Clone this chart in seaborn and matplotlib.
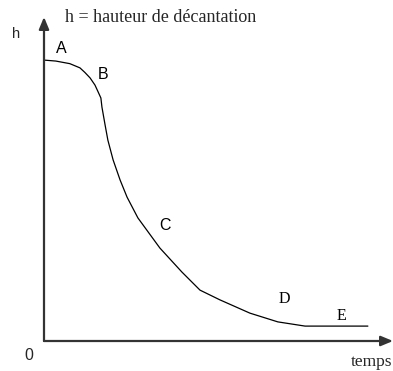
import matplotlib
matplotlib.use("Agg")
import matplotlib.pyplot as plt
import seaborn as sns
import pandas as pd

# Data (arbitrary units: time 0-100, height 0-100)
temps = [0, 3.4, 7.4, 10.3, 11.7, 13.2, 14.6, 15.5, 16.3, 16.6, 17.5, 18.3,
         19.8, 21.8, 23.8, 26.9, 33.2, 39.5, 44.7, 50.4, 59.0, 67.0, 74.8, 92.8]
hauteur = [86.7, 86.4, 85.6, 84.3, 82.9, 81.2, 79.0, 76.9, 75.0, 72.2, 66.7, 62.0,
           55.9, 49.7, 44.4, 38.0, 28.7, 21.3, 15.7, 12.7, 8.6, 5.9, 4.6, 4.6]
point_labels = ["A", "B", "C", "D", "E"]
label_t = [4.9, 16.9, 34.7, 68.8, 85.1]
label_h = [90.4, 82.4, 35.8, 13.0, 7.7]

sns.set_theme(style="white")
df = pd.DataFrame({"temps": temps, "h": hauteur})

fig = plt.figure(figsize=(3.93, 3.71), dpi=100)
W, H = 393, 371
ax = fig.add_axes([44 / W, (H - 341) / H, 349 / W, 324 / H])
ax.set_facecolor("white")

sns.lineplot(data=df, x="temps", y="h", ax=ax, color="black", linewidth=0.9,
             sort=False, estimator=None)

ax.set_xlim(0, 100)
ax.set_ylim(0, 100)
ax.set_xticks([])
ax.set_yticks([])
ax.set_xlabel("")
ax.set_ylabel("")
for s in ["top", "right", "left", "bottom"]:
    ax.spines[s].set_visible(False)

axcol = "#333333"
ax.annotate("", xy=(100, 0), xytext=(0, 0),
            arrowprops=dict(arrowstyle="-|>,head_length=0.6,head_width=0.25",
                            color=axcol, lw=1.6, shrinkA=0, shrinkB=0),
            annotation_clip=False)
ax.annotate("", xy=(0, 100), xytext=(0, 0),
            arrowprops=dict(arrowstyle="-|>,head_length=0.6,head_width=0.25",
                            color=axcol, lw=1.6, shrinkA=0, shrinkB=0),
            annotation_clip=False)

sans = ["Liberation Sans", "DejaVu Sans"]
serif = ["Liberation Serif", "DejaVu Serif"]
for lab, t, hh in zip(point_labels, label_t, label_h):
    fam = sans if lab in ("A", "B", "C") else serif
    ax.text(t, hh, lab, ha="center", va="center", fontsize=11.5, family=fam,
            color="black")

fig.text(16 / W, 1 - 34 / H, "h", ha="center", va="center", fontsize=10.5,
         family=sans)
fig.text(65 / W, 1 - 18 / H, "h = hauteur de décantation", ha="left",
         va="center", fontsize=13, family=serif)
fig.text(29 / W, 1 - 356 / H, "0", ha="center", va="center", fontsize=11.5,
         family=sans)
fig.text(351 / W, 1 - 362 / H, "temps", ha="left", va="center", fontsize=12.5,
         family=serif)

fig.savefig("out.png", dpi=100, facecolor="white")
